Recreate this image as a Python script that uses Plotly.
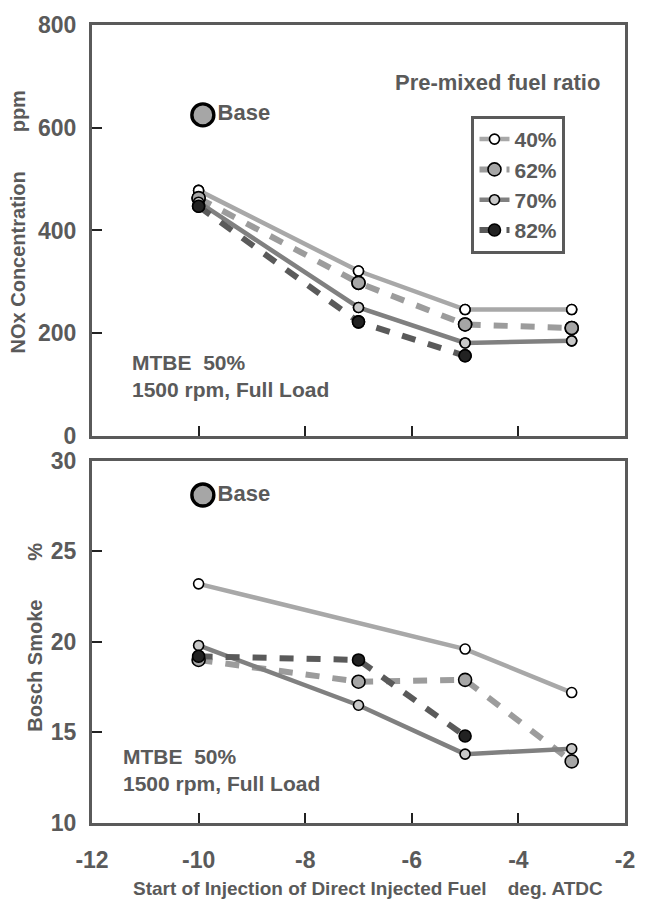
import plotly.graph_objects as go

# Start of injection timing (deg. ATDC)
soi_4 = [-10, -7, -5, -3]
soi_3 = [-10, -7, -5]
soi_smoke_40 = [-10, -5, -3]

series_names = ["40%", "62%", "70%", "82%"]

# NOx concentration (ppm)
nox_40 = [478, 321, 246, 246]
nox_62 = [463, 298, 217, 210]
nox_70 = [455, 250, 181, 185]
nox_82 = [447, 222, 156]

# Bosch smoke (%)
smoke_40 = [23.2, 19.6, 17.2]
smoke_62 = [19.0, 17.8, 17.9, 13.4]
smoke_70 = [19.8, 16.5, 13.8, 14.1]
smoke_82 = [19.2, 19.0, 14.8]

# Base engine reference points
base_soi = [-9.92]
base_nox = [625]
base_smoke = [28.1]

# Axis ticks and labels (plain hyphen minus)
x_ticks = [-12, -10, -8, -6, -4, -2]
x_tick_labels = ["-12", "-10", "-8", "-6", "-4", "-2"]
nox_ticks = [0, 200, 400, 600, 800]
smoke_ticks = [10, 15, 20, 25, 30]

TXT = "#5a5a5a"
AX = "#5a5a5a"
FONT = "Liberation Sans, Arial, sans-serif"

styles = {
    "40%": dict(line=dict(color="#a8a8a8", width=4.5),
                marker=dict(size=10, color="white", line=dict(color="black", width=1.6))),
    "62%": dict(line=dict(color="#9c9c9c", width=6, dash="14px,13px"),
                marker=dict(size=13, color="#a6a6a6", line=dict(color="black", width=1.6))),
    "70%": dict(line=dict(color="#808080", width=4.5),
                marker=dict(size=10, color="#c8c8c8", line=dict(color="black", width=1.6))),
    "82%": dict(line=dict(color="#5a5a5a", width=6, dash="14px,13px"),
                marker=dict(size=12, color="#222222", line=dict(color="black", width=1.6))),
}

top_data = [(soi_4, nox_40), (soi_4, nox_62), (soi_4, nox_70), (soi_3, nox_82)]
bot_data = [(soi_smoke_40, smoke_40), (soi_4, smoke_62), (soi_4, smoke_70), (soi_3, smoke_82)]

fig = go.Figure()

for name, (xs, ys) in zip(series_names, top_data):
    st = styles[name]
    fig.add_trace(go.Scatter(x=xs, y=ys, mode="lines+markers", name=name,
                             line=st["line"], marker=st["marker"],
                             xaxis="x", yaxis="y", legendgroup=name))
for name, (xs, ys) in zip(series_names, bot_data):
    st = styles[name]
    fig.add_trace(go.Scatter(x=xs, y=ys, mode="lines", name=name, showlegend=False,
                             line=st["line"], xaxis="x2", yaxis="y2", legendgroup=name))

# markers on top of all lines
for name, (xs, ys) in zip(series_names, top_data):
    fig.add_trace(go.Scatter(x=xs, y=ys, mode="markers", showlegend=False,
                             marker=styles[name]["marker"], xaxis="x", yaxis="y",
                             legendgroup=name, hoverinfo="skip"))
for name, (xs, ys) in zip(series_names, bot_data):
    fig.add_trace(go.Scatter(x=xs, y=ys, mode="markers", showlegend=False,
                             marker=styles[name]["marker"], xaxis="x2", yaxis="y2",
                             legendgroup=name, hoverinfo="skip"))

base_marker = dict(size=22, color="#a6a6a6", line=dict(color="black", width=3.4))
base_font = dict(family=FONT, size=22, color=TXT, weight="bold")
fig.add_trace(go.Scatter(x=base_soi, y=base_nox, mode="markers+text", text=["Base"],
                         textposition="middle right", textfont=base_font,
                         marker=base_marker, showlegend=False, xaxis="x", yaxis="y"))
fig.add_trace(go.Scatter(x=base_soi, y=base_smoke, mode="markers+text", text=["Base"],
                         textposition="middle right", textfont=base_font,
                         marker=base_marker, showlegend=False, xaxis="x2", yaxis="y2"))

tickfont = dict(family=FONT, size=23, color=TXT, weight="bold")
axis_common = dict(showline=True, mirror=True, linecolor=AX, linewidth=3,
                   ticks="inside", ticklen=10, tickwidth=2, tickcolor="#222222",
                   showgrid=False, zeroline=False, tickfont=tickfont)

fig.update_layout(
    width=647, height=899,
    margin=dict(l=92, r=17, t=17, b=76),
    paper_bgcolor="white", plot_bgcolor="white",
    font=dict(family=FONT, color=TXT),
    xaxis=dict(domain=[0, 1], range=[-12, -2], tickvals=x_ticks, ticktext=x_tick_labels,
               anchor="y", showticklabels=False, **axis_common),
    yaxis=dict(domain=[0.4851, 1], range=[0, 800], tickvals=nox_ticks, anchor="x",
               ticklabelstandoff=8, **axis_common),
    xaxis2=dict(domain=[0, 1], range=[-12, -2], tickvals=x_ticks, ticktext=x_tick_labels,
                anchor="y2", ticklabelstandoff=14, **axis_common),
    yaxis2=dict(domain=[0, 0.4541], range=[10, 30], tickvals=smoke_ticks, anchor="x2",
                ticklabelstandoff=8, **axis_common),
    legend=dict(x=0.712, y=0.886, xanchor="left", yanchor="top",
                bgcolor="white", bordercolor=AX, borderwidth=3,
                font=dict(family=FONT, size=21, color=TXT, weight="bold"),
                tracegroupgap=0, itemwidth=30),
    showlegend=True,
)

note_font = dict(family=FONT, size=21, color=TXT, weight="bold")
nb = "\u00a0"
fig.add_annotation(text="Pre-mixed fuel ratio", xref="x domain", yref="y domain",
                   x=0.760, y=0.860, xanchor="center", yanchor="middle", showarrow=False,
                   font=dict(family=FONT, size=22, color=TXT, weight="bold"))
fig.add_annotation(text=f"MTBE{nb}{nb}50%<br>1500 rpm, Full Load", xref="x domain", yref="y domain",
                   x=0.0706, y=0.146, xanchor="left", yanchor="middle", align="left",
                   showarrow=False, font=note_font)
fig.add_annotation(text=f"MTBE{nb}{nb}50%<br>1500 rpm, Full Load", xref="x2 domain", yref="y2 domain",
                   x=0.054, y=0.145, xanchor="left", yanchor="middle", align="left",
                   showarrow=False, font=note_font)

title_font = dict(family=FONT, size=20, color=TXT, weight="bold")
fig.add_annotation(text="NOx Concentration" + nb * 7 + "ppm", textangle=-90,
                   xref="paper", yref="y domain", x=0, y=0.5, xshift=-74, yshift=8,
                   xanchor="center", yanchor="middle", showarrow=False, font=title_font)
fig.add_annotation(text="Bosch Smoke" + nb * 7 + "%", textangle=-90,
                   xref="paper", yref="y2 domain", x=0, y=0.5, xshift=-57, yshift=4,
                   xanchor="center", yanchor="middle", showarrow=False, font=title_font)
fig.add_annotation(text="Start of Injection of Direct Injected Fuel" + nb * 4 + "deg. ATDC",
                   xref="paper", yref="paper", x=0.517, y=0, yshift=-65,
                   xanchor="center", yanchor="middle", showarrow=False,
                   font=dict(family=FONT, size=19, color=TXT, weight="bold"))

fig.write_html("out.html")
